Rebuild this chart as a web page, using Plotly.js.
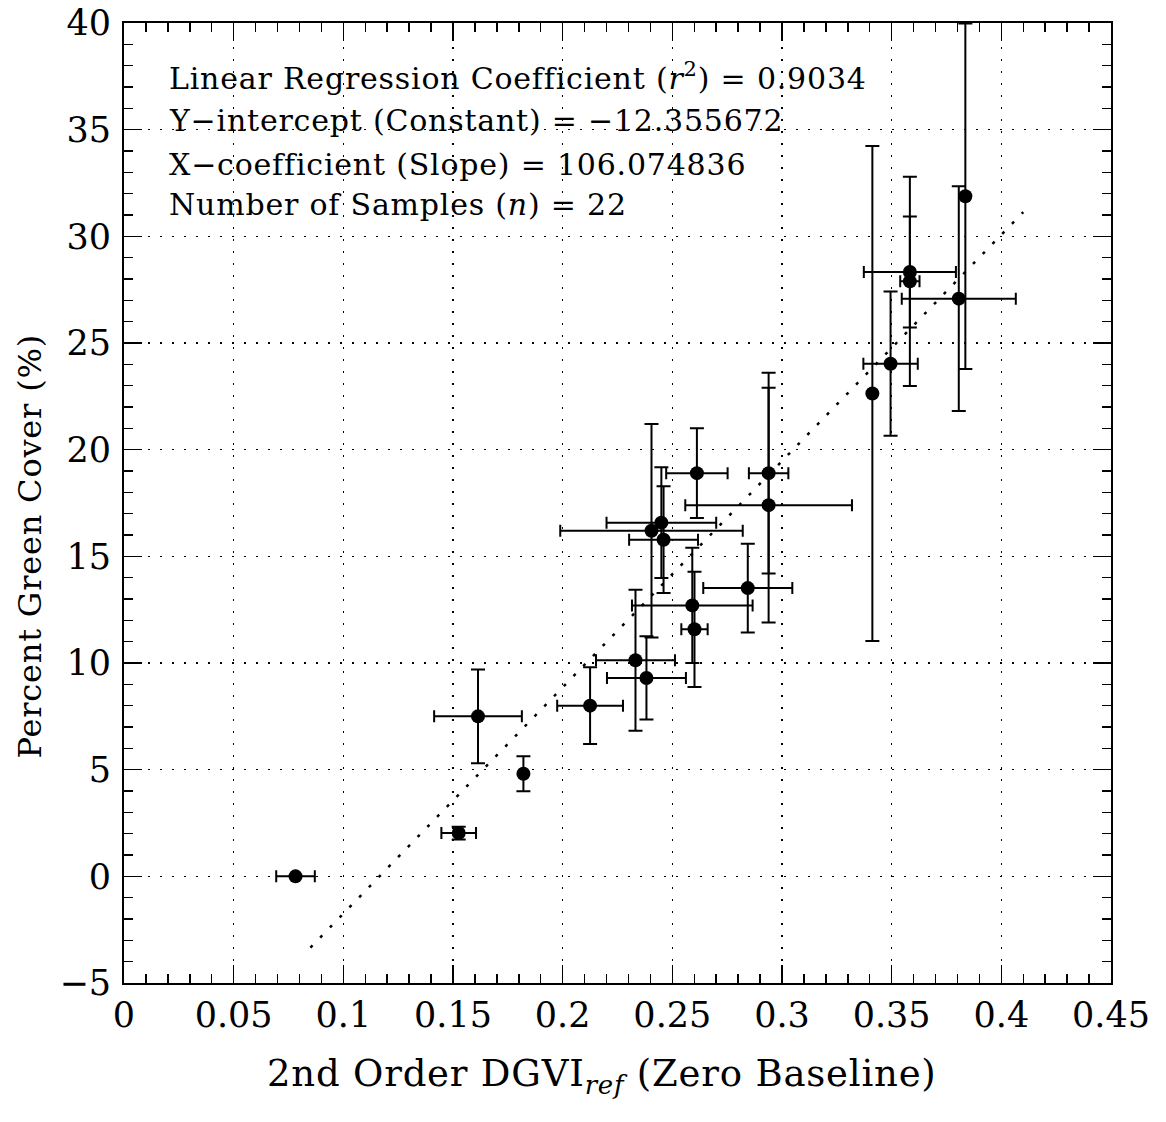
<!DOCTYPE html>
<html>
<head>
<meta charset="utf-8">
<script src="https://cdn.plot.ly/plotly-3.0.1.min.js"></script>
<style>
html,body{margin:0;padding:0;background:#fff;}
#chart{width:1166px;height:1122px;}
.annotation-text{letter-spacing:0.8px;}
</style>
</head>
<body>
<div id="chart"></div>
<script>
// DGVI values (x) and percent green cover (y) with their error half-widths
const dgvi      = [0.0782, 0.1526, 0.1614, 0.1821, 0.2125, 0.2332, 0.2382, 0.2405, 0.2450, 0.2460, 0.2591,
                   0.2601, 0.2612, 0.2844, 0.2939, 0.2939, 0.3412, 0.3495, 0.3583, 0.3583, 0.3806, 0.3836];
const greenCover = [0.0, 2.03, 7.5, 4.81, 8.0, 10.13, 9.3, 16.2, 16.58, 15.78, 12.7,
                   11.58, 18.9, 13.51, 18.9, 17.4, 22.63, 24.03, 28.33, 27.89, 27.08, 31.88];
const dgviErr   = [0.0088, 0.0079, 0.020, 0.0, 0.015, 0.018, 0.018, 0.0416, 0.025, 0.0157, 0.0275,
                   0.006, 0.014, 0.0203, 0.009, 0.038, 0.0, 0.0124, 0.021, 0.0044, 0.026, 0.0];
const coverErr  = [0.0, 0.3, 2.2, 0.82, 1.8, 3.3, 1.95, 5.0, 2.6, 2.5, 2.7,
                   2.7, 2.1, 2.08, 4.7, 5.5, 11.6, 3.38, 2.6, 4.9, 5.27, 8.1];

// regression
const intercept = -12.355672;
const slope = 106.074836;
const r2 = 0.9034;
const nSamples = 22;
const fitX = [0.085, 0.41];
const fitY = fitX.map(v => intercept + slope * v);

const xTicks = [0, 0.05, 0.1, 0.15, 0.2, 0.25, 0.3, 0.35, 0.4, 0.45];
const xTickText = ['0', '0.05', '0.1', '0.15', '0.2', '0.25', '0.3', '0.35', '0.4', '0.45'];
const yTicks = [-5, 0, 5, 10, 15, 20, 25, 30, 35, 40];
const yTickText = ['\u22125', '0', '5', '10', '15', '20', '25', '30', '35', '40'];

const FONT = 'DejaVu Serif, Liberation Serif, serif';

const traces = [
  {
    x: fitX, y: fitY, mode: 'lines', type: 'scatter',
    line: {color: '#000', width: 2.5, dash: '3px,11px'},
    hoverinfo: 'skip', showlegend: false
  },
  {
    x: dgvi, y: greenCover, mode: 'markers', type: 'scatter',
    marker: {color: '#000', size: 14, symbol: 'circle'},
    error_x: {type: 'data', array: dgviErr, visible: true, color: '#000', thickness: 2, width: 6},
    error_y: {type: 'data', array: coverErr, visible: true, color: '#000', thickness: 2, width: 7},
    showlegend: false
  }
];

const axisCommon = {
  showline: true, linecolor: '#000', linewidth: 2, mirror: 'allticks',
  ticks: 'inside', ticklen: 18, tickwidth: 1.5, tickcolor: '#000',
  showgrid: true, gridcolor: '#000', gridwidth: 1.5, griddash: '2px,10px',
  zeroline: false,
  tickfont: {family: FONT, size: 35, color: '#000'}
};

const annFont = {family: FONT, size: 30, color: '#000'};

const layout = {
  width: 1166, height: 1122,
  margin: {l: 124, r: 55, t: 23, b: 139},
  paper_bgcolor: '#fff', plot_bgcolor: '#fff',
  showlegend: false,
  font: {family: FONT, color: '#000'},
  xaxis: Object.assign({}, axisCommon, {
    range: [0, 0.45], tickmode: 'array', tickvals: xTicks, ticktext: xTickText,
    minor: {ticks: 'inside', ticklen: 9, tickwidth: 1.5, tickcolor: '#000', dtick: 0.01, tick0: 0, showgrid: false}
  }),
  yaxis: Object.assign({}, axisCommon, {
    range: [-5, 40], tickmode: 'array', tickvals: yTicks, ticktext: yTickText,
    ticklabelstandoff: 4,
    minor: {ticks: 'inside', ticklen: 9, tickwidth: 1.5, tickcolor: '#000', dtick: 1, tick0: 0, showgrid: false}
  }),
  annotations: [
    {xref: 'paper', yref: 'paper', x: 0.044, y: 0.944, xanchor: 'left', yanchor: 'middle', showarrow: false,
     text: 'Linear Regression Coefficient (<i>r</i><sup>2</sup>) = ' + r2.toFixed(4), font: annFont},
    {xref: 'paper', yref: 'paper', x: 0.044, y: 0.898, xanchor: 'left', yanchor: 'middle', showarrow: false,
     text: 'Y\u2212intercept (Constant) = \u2212' + Math.abs(intercept).toFixed(6), font: annFont},
    {xref: 'paper', yref: 'paper', x: 0.044, y: 0.853, xanchor: 'left', yanchor: 'middle', showarrow: false,
     text: 'X\u2212coefficient (Slope) = ' + slope.toFixed(6), font: annFont},
    {xref: 'paper', yref: 'paper', x: 0.044, y: 0.811, xanchor: 'left', yanchor: 'middle', showarrow: false,
     text: 'Number of Samples (<i>n</i>) = ' + nSamples, font: annFont},
    {xref: 'paper', yref: 'paper', x: 0.484, y: -0.097, xanchor: 'center', yanchor: 'middle', showarrow: false,
     text: '2nd Order DGVI<sub><i>ref</i></sub> (Zero Baseline)', font: {family: FONT, size: 37, color: '#000'}},
    {xref: 'paper', yref: 'paper', x: -0.095, y: 0.455, xanchor: 'center', yanchor: 'middle', showarrow: false,
     textangle: -90, text: 'Percent Green Cover (%)', font: {family: FONT, size: 32, color: '#000'}}
  ]
};

Plotly.newPlot('chart', traces, layout, {staticPlot: true, displayModeBar: false});
</script>
</body>
</html>
